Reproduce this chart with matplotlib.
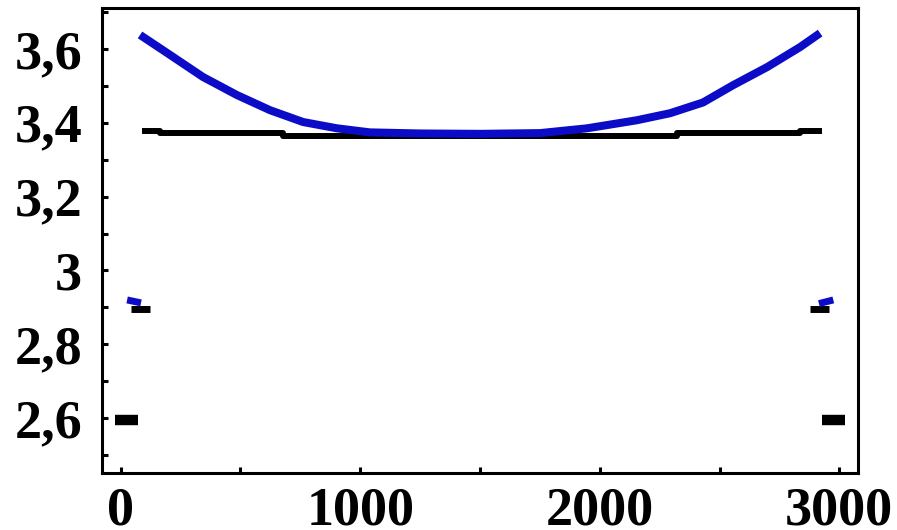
import matplotlib
matplotlib.use("Agg")
import matplotlib.pyplot as plt
from matplotlib.ticker import MultipleLocator, FixedLocator, FuncFormatter

# --- data ---
blue_x = [81, 206, 344, 486, 624, 762, 903, 1040, 1250, 1500, 1751, 1947, 2156, 2294, 2431, 2557, 2699, 2836, 2920]
blue_y = [3.638, 3.584, 3.524, 3.475, 3.434, 3.402, 3.385, 3.374, 3.371, 3.370, 3.372, 3.385, 3.407, 3.426, 3.455, 3.502, 3.551, 3.605, 3.643]

black_x = [89, 165, 165, 678, 678, 2322, 2322, 2836, 2836, 2928]
black_y = [3.378, 3.378, 3.373, 3.373, 3.364, 3.364, 3.373, 3.373, 3.378, 3.378]

blue_dash_left_x = [27, 85]
blue_dash_left_y = [2.920, 2.912]
black_dash_left_x = [45, 122]
black_dash_left_y = [2.896, 2.896]
black_low_left_x = [-22, 72]
black_low_left_y = [2.596, 2.596]

black_dash_right_x = [2878, 2955]
black_dash_right_y = [2.896, 2.896]
blue_dash_right_x = [2915, 2975]
blue_dash_right_y = [2.910, 2.920]
black_low_right_x = [2928, 3024]
black_low_right_y = [2.596, 2.596]

x_ticks = [0, 1000, 2000, 3000]
y_ticks = [2.6, 2.8, 3.0, 3.2, 3.4, 3.6]

BLUE = "#0c0cc8"

fig = plt.figure(figsize=(8.97, 5.30), dpi=100)
ax = fig.add_axes([0.1134, 0.1075, 0.8431, 0.8774])

ax.plot(blue_x, blue_y, color=BLUE, lw=5.8, solid_capstyle="butt", zorder=3)
ax.plot(black_x, black_y, color="black", lw=4.3, solid_capstyle="butt", zorder=2)

for xs, ys, c, w in [(black_dash_left_x, black_dash_left_y, "black", 5.0),
                     (blue_dash_left_x, blue_dash_left_y, BLUE, 5.0),
                     (black_low_left_x, black_low_left_y, "black", 7.5),
                     (black_dash_right_x, black_dash_right_y, "black", 5.0),
                     (blue_dash_right_x, blue_dash_right_y, BLUE, 5.0),
                     (black_low_right_x, black_low_right_y, "black", 7.5)]:
    ax.plot(xs, ys, color=c, lw=w, solid_capstyle="butt")

ax.set_xlim(-79, 3078)
ax.set_ylim(2.451, 3.711)

ax.xaxis.set_major_locator(FixedLocator(x_ticks))
ax.xaxis.set_minor_locator(MultipleLocator(500))
ax.yaxis.set_major_locator(FixedLocator(y_ticks))
ax.yaxis.set_minor_locator(MultipleLocator(0.1))

def yfmt(v, pos):
    s = f"{v:.1f}"
    if s.endswith(".0"):
        s = s[:-2]
    return s.replace(".", ",")

ax.yaxis.set_major_formatter(FuncFormatter(yfmt))
ax.xaxis.set_major_formatter(FuncFormatter(lambda v, p: f"{int(v)}"))

for lab in ax.get_xticklabels() + ax.get_yticklabels():
    lab.set_fontfamily("Liberation Serif")
    lab.set_fontweight("bold")
    lab.set_fontsize(39)

ax.tick_params(axis="both", which="both", direction="in", width=2.2, length=4, colors="black")
ax.tick_params(axis="y", which="major", pad=14)
ax.tick_params(axis="x", which="major", pad=10)

for sp in ax.spines.values():
    sp.set_linewidth(2.2)

fig.savefig("out.png", dpi=100)
